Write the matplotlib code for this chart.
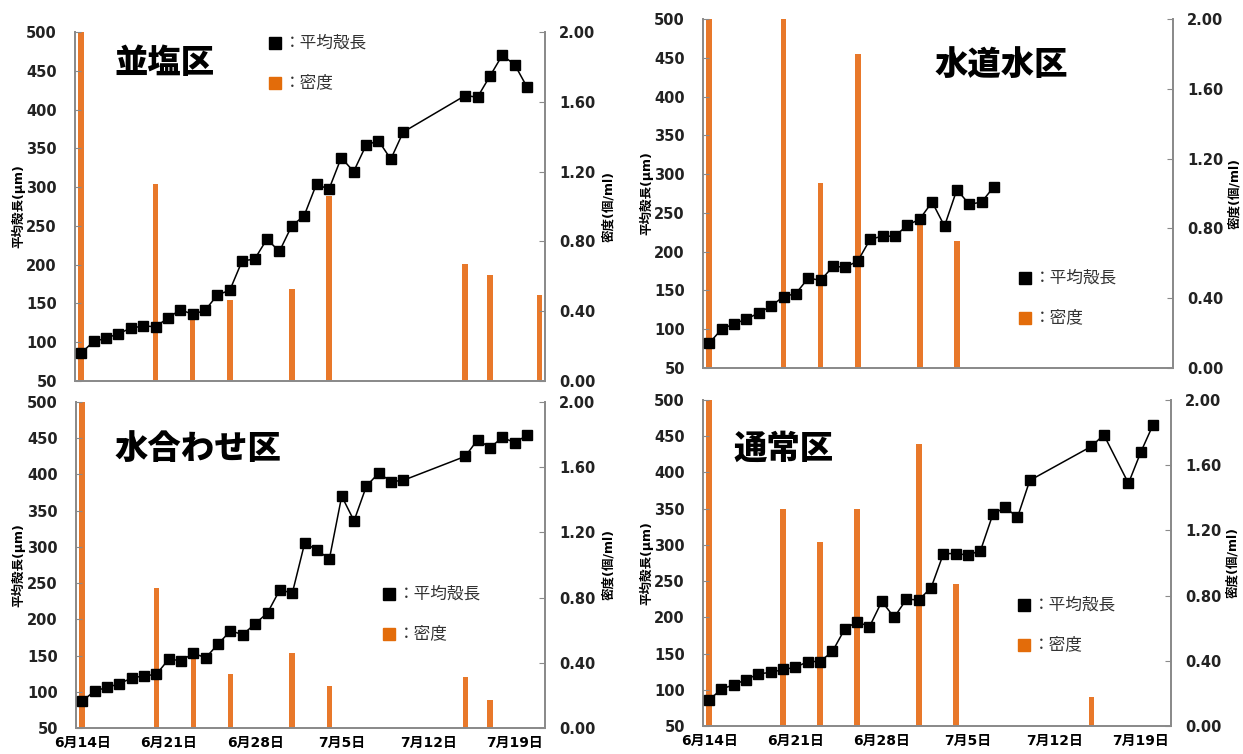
import matplotlib
matplotlib.use('Agg')
import matplotlib.pyplot as plt
from matplotlib.lines import Line2D

plt.rcParams['font.family'] = ['DejaVu Sans', 'Noto Sans CJK JP']

# ---------------- data ----------------
# x values: days counted from 6月14日
days_enshio = [0, 1, 2, 3, 4, 5, 6, 7, 8, 9, 10, 11, 12, 13, 14, 15, 16, 17, 18, 19,
               20, 21, 22, 23, 24, 25, 26, 31, 32, 33, 34, 35, 36]
len_enshio = [86, 101, 105, 111, 118, 121, 120, 131, 142, 136, 141, 161, 167, 205, 207,
              233, 217, 250, 263, 304, 297, 338, 320, 354, 360, 336, 371,
              418, 416, 443, 470, 458, 429]
bar_days_enshio = [0, 6, 9, 12, 17, 20, 31, 33, 37]
dens_enshio = [2.00, 1.13, 0.37, 0.465, 0.53, 1.06, 0.67, 0.605, 0.495]

days_tap = [0, 1, 2, 3, 4, 5, 6, 7, 8, 9, 10, 11, 12, 13, 14, 15, 16, 17, 18, 19,
            20, 21, 22, 23]
len_tap = [82, 100, 107, 113, 121, 130, 142, 146, 166, 163, 181, 180, 188, 216, 220,
           220, 234, 242, 264, 233, 280, 261, 264, 284]
bar_days_tap = [0, 6, 9, 12, 17, 20]
dens_tap = [2.00, 2.00, 1.06, 1.80, 0.84, 0.73]

days_mix = [0, 1, 2, 3, 4, 5, 6, 7, 8, 9, 10, 11, 12, 13, 14, 15, 16, 17, 18, 19,
            20, 21, 22, 23, 24, 25, 26, 31, 32, 33, 34, 35, 36]
len_mix = [87, 101, 106, 111, 119, 122, 124, 145, 143, 153, 147, 166, 184, 179, 194,
           209, 241, 236, 305, 296, 283, 370, 336, 384, 402, 390, 392,
           425, 448, 437, 451, 444, 454]
bar_days_mix = [0, 6, 9, 12, 17, 20, 31, 33]
dens_mix = [2.00, 0.86, 0.45, 0.33, 0.46, 0.26, 0.31, 0.17]

days_normal = [0, 1, 2, 3, 4, 5, 6, 7, 8, 9, 10, 11, 12, 13, 14, 15, 16, 17, 18, 19,
               20, 21, 22, 23, 24, 25, 26, 31, 32, 34, 35, 36]
len_normal = [86, 101, 107, 114, 122, 124, 128, 131, 139, 139, 153, 184, 194, 187, 222,
              200, 225, 224, 241, 288, 288, 286, 292, 342, 352, 338, 389,
              436, 452, 385, 428, 466]
bar_days_normal = [0, 6, 9, 12, 17, 20, 31]
dens_normal = [2.00, 1.33, 1.13, 1.33, 1.73, 0.87, 0.18]

xtick_days = [0, 7, 14, 21, 28, 35]
xtick_labels = ['6月14日', '6月21日', '6月28日', '7月5日', '7月12日', '7月19日']
left_ticks = [50, 100, 150, 200, 250, 300, 350, 400, 450, 500]
right_ticks = [0.0, 0.4, 0.8, 1.2, 1.6, 2.0]

titles = ['並塩区', '水道水区', '水合わせ区', '通常区']
legend_labels = ['：平均殻長', '：密度']
ylabel_left = '平均殻長(μm)'
ylabel_right = '密度(個/ml)'

# ---------------- layout ----------------
W, H = 1243, 754
fig = plt.figure(figsize=(W / 100, H / 100), dpi=100)


def box(l, t, r, b):
    return [l / W, 1 - b / H, (r - l) / W, (b - t) / H]


def fx(x):
    return x / W


def fy(y):
    return 1 - y / H


BAR_C = '#E8782A'
LEG_C = '#E36C0A'
SPINE_C = '#8a8a8a'

panels = [
    dict(title=titles[0], rect=(75, 32, 545, 381), days=days_enshio, length=len_enshio,
         bdays=bar_days_enshio, dens=dens_enshio, title_xy=(114, 62), leg_xy=(275, 43),
         xlabels=False, ylab=(18, 609)),
    dict(title=titles[1], rect=(703, 19, 1173, 368), days=days_tap, length=len_tap,
         bdays=bar_days_tap, dens=dens_tap, title_xy=(935, 64), leg_xy=(1025, 278),
         xlabels=False, ylab=(646, 1235)),
    dict(title=titles[2], rect=(76, 402, 545, 728), days=days_mix, length=len_mix,
         bdays=bar_days_mix, dens=dens_mix, title_xy=(115, 449), leg_xy=(389, 594),
         xlabels=True, ylab=(18, 609)),
    dict(title=titles[3], rect=(703, 400, 1171, 726), days=days_normal, length=len_normal,
         bdays=bar_days_normal, dens=dens_normal, title_xy=(733, 448), leg_xy=(1024, 605),
         xlabels=True, ylab=(646, 1233)),
]

for p in panels:
    l, t, r, b = p['rect']
    ax = fig.add_axes(box(l, t, r, b))
    ax2 = ax.twinx()
    ax.set_zorder(ax2.get_zorder() + 1)
    ax.patch.set_visible(False)

    ax2.bar(p['bdays'], p['dens'], width=0.45, color=BAR_C, zorder=1)
    ax.plot(p['days'], p['length'], color='black', lw=1.1, marker='s', ms=6.5,
            markerfacecolor='black', markeredgecolor='black', zorder=3)

    ax.set_xlim(-0.5, 37.45)
    ax.set_ylim(50, 500)
    ax2.set_ylim(0, 2.0)
    ax.set_yticks(left_ticks)
    ax2.set_yticks(right_ticks)
    ax2.set_yticklabels(['%.2f' % v for v in right_ticks])
    ax.set_xticks(xtick_days)
    if p['xlabels']:
        ax.set_xticklabels(xtick_labels, fontsize=10, fontweight='bold')
    else:
        ax.set_xticklabels([])

    for a in (ax, ax2):
        a.spines['top'].set_visible(False)
        for s in ('left', 'right', 'bottom'):
            a.spines[s].set_color(SPINE_C)
            a.spines[s].set_linewidth(1.3)
    ax.tick_params(axis='y', direction='in', length=4, color=SPINE_C, labelsize=10.5,
                   pad=13)
    ax2.tick_params(axis='y', direction='in', length=4, color=SPINE_C, labelsize=10.5,
                    pad=10)
    ax.tick_params(axis='x', length=0, pad=6)
    for lab in ax.get_yticklabels() + ax2.get_yticklabels():
        lab.set_fontweight('bold')
        lab.set_color('#222222')

    # y labels
    yc = (t + b) / 2
    fig.text(fx(p['ylab'][0]), fy(yc), ylabel_left, rotation=90, ha='center',
             va='center', fontsize=9, fontweight='bold')
    fig.text(fx(p['ylab'][1]), fy(yc), ylabel_right, rotation=90, ha='center',
             va='center', fontsize=9, fontweight='bold')

    # title
    tx, ty = p['title_xy']
    fig.text(fx(tx), fy(ty), p['title'], ha='left', va='center', fontsize=24,
             fontweight='heavy', family=['Noto Sans CJK JP'])

    # legend
    lx, ly = p['leg_xy']
    for i, (lab, col) in enumerate(zip(legend_labels, ['black', LEG_C])):
        yy = ly + i * 40
        fig.add_artist(Line2D([fx(lx)], [fy(yy)], marker='s', ms=8, color=col,
                              linestyle='none', transform=fig.transFigure))
        fig.text(fx(lx + 9), fy(yy), lab, ha='left', va='center', fontsize=12,
                 color='#333333', family=['Noto Sans CJK JP'])

fig.savefig('out.png', dpi=100)
